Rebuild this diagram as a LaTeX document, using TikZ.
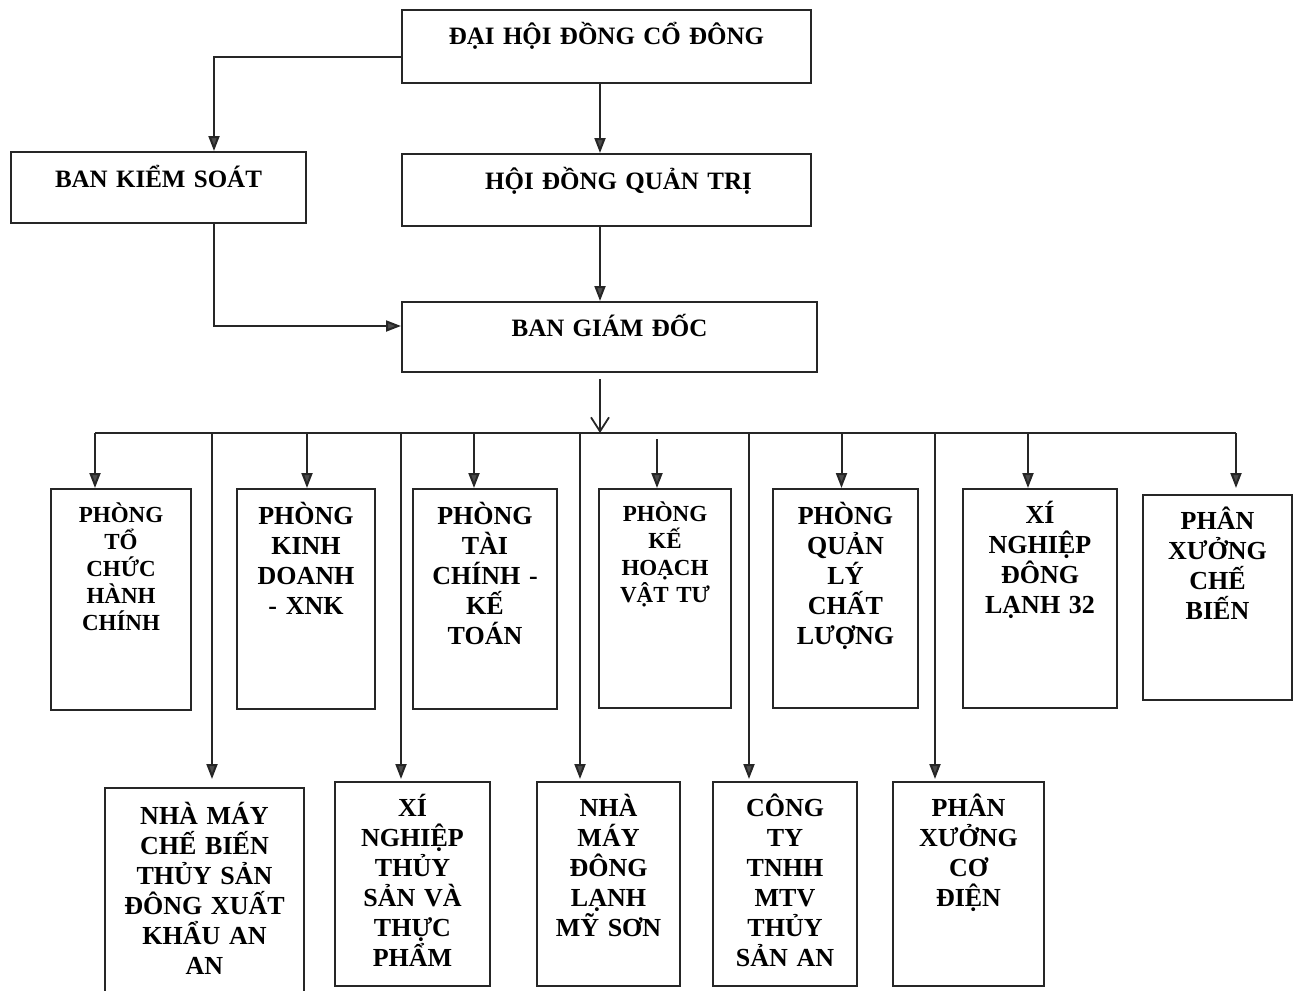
\documentclass[tikz,border=0pt]{standalone}
\usepackage{fontspec}
\setmainfont{Liberation Serif}
\usetikzlibrary{arrows.meta, positioning}

\begin{document}
\begin{tikzpicture}[
    x=0.5pt, y=-0.5pt,
    box/.style={draw=black!85, line width=1pt, rectangle, inner sep=0pt},
    lbl/.style={anchor=base, align=center, inner sep=0pt, text width=200pt,
        font=\bfseries\fontsize{12.5}{15}\selectfont},
    unitlbl/.style={anchor=base, align=center, inner sep=0pt, text width=100pt,
        font=\bfseries\fontsize{13}{15}\selectfont},
    smalllbl/.style={unitlbl, font=\bfseries\fontsize{11.5}{13.5}\selectfont},
    arrow/.style={draw=black!85, line width=1pt, -{Triangle[length=7.5pt,width=5.5pt,fill=black!70]}},
    vee/.style={draw=black!85, line width=1pt, -{Straight Barb[length=7pt,width=9pt,line width=0.9pt]}}
]
\useasboundingbox (0,0) rectangle (1297,991);

% top levels
\node (dhdcd) [box, minimum width=204.5pt, minimum height=36.5pt,
    label={[lbl, yshift=-17.5pt]north:ĐẠI HỘI ĐỒNG CỔ ĐÔNG}] at (606.5,46.5) {};
\node (bks) [box, minimum width=147.5pt, minimum height=35.5pt,
    label={[lbl, yshift=-18pt]north:BAN KIỂM SOÁT}] at (158.5,187.5) {};
\node (hdqt) [box, minimum width=204.5pt, minimum height=36pt,
    label={[lbl, xshift=6pt, yshift=-18pt]north:HỘI ĐỒNG QUẢN TRỊ}] at (606.5,190) {};
\node (bgd) [box, minimum width=207.5pt, minimum height=35pt,
    label={[lbl, yshift=-17.5pt]north:BAN GIÁM ĐỐC}] at (609.5,337) {};

% departments
\node (d1) [box, minimum width=70pt, minimum height=110.5pt,
    label={[smalllbl, yshift=-17pt]north:PHÒNG\\TỔ\\CHỨC\\HÀNH\\CHÍNH}] at (121,599.5) {};
\node (d2) [box, minimum width=69pt, minimum height=110pt,
    label={[unitlbl, yshift=-18pt]north:PHÒNG\\KINH\\DOANH\\- XNK}] at (306,599) {};
\node (d3) [box, minimum width=72pt, minimum height=110pt,
    label={[unitlbl, yshift=-18pt]north:PHÒNG\\TÀI\\CHÍNH -\\KẾ\\TOÁN}] at (485,599) {};
\node (d4) [box, minimum width=66pt, minimum height=109.5pt,
    label={[smalllbl, yshift=-16.5pt]north:PHÒNG\\KẾ\\HOẠCH\\VẬT TƯ}] at (665,598.5) {};
\node (d5) [box, minimum width=72.5pt, minimum height=109.5pt,
    label={[unitlbl, yshift=-18pt]north:PHÒNG\\QUẢN\\LÝ\\CHẤT\\LƯỢNG}] at (845.5,598.5) {};
\node (d6) [box, minimum width=77pt, minimum height=109.5pt,
    label={[unitlbl, yshift=-17.5pt]north:XÍ\\NGHIỆP\\ĐÔNG\\LẠNH 32}] at (1040,598.5) {};
\node (d7) [box, minimum width=74.5pt, minimum height=102.5pt,
    label={[unitlbl, yshift=-17.5pt]north:PHÂN\\XƯỞNG\\CHẾ\\BIẾN}] at (1217.5,597.5) {};

% member units
\node (b1) [box, minimum width=99.5pt, minimum height=106pt,
    label={[unitlbl, yshift=-18.5pt]north:NHÀ MÁY\\CHẾ BIẾN\\THỦY SẢN\\ĐÔNG XUẤT\\KHẨU AN\\AN}] at (204.5,894) {};
\node (b2) [box, minimum width=77.5pt, minimum height=102pt,
    label={[unitlbl, yshift=-17.5pt]north:XÍ\\NGHIỆP\\THỦY\\SẢN VÀ\\THỰC\\PHẨM}] at (412.5,884) {};
\node (b3) [box, minimum width=71.5pt, minimum height=102pt,
    label={[unitlbl, yshift=-17.5pt]north:NHÀ\\MÁY\\ĐÔNG\\LẠNH\\MỸ SƠN}] at (608.5,884) {};
\node (b4) [box, minimum width=72pt, minimum height=102pt,
    label={[unitlbl, yshift=-17.5pt]north:CÔNG\\TY\\TNHH\\MTV\\THỦY\\SẢN AN}] at (785,884) {};
\node (b5) [box, minimum width=75.5pt, minimum height=102pt,
    label={[unitlbl, yshift=-17.5pt]north:PHÂN\\XƯỞNG\\CƠ\\ĐIỆN}] at (968.5,884) {};

% bus
\coordinate (busL) at (95,433);
\coordinate (busR) at (1236,433);
\draw [draw=black!85, line width=1pt] (busL) -- (busR);

\draw [arrow] ([yshift=-5.25pt]dhdcd.west) -| ([xshift=27.75pt]bks.north);
\draw [arrow] ([xshift=-3.25pt]dhdcd.south) -- ([xshift=-3.25pt]hdqt.north);
\draw [arrow] ([xshift=-3.25pt]hdqt.south) -- ([xshift=-4.75pt]bgd.north);
\draw [arrow] ([xshift=27.75pt]bks.south) |- ([yshift=5.5pt]bgd.west);
\draw [vee, shorten <=3pt] ([xshift=-4.75pt]bgd.south) -- ([xshift=-4.75pt]bgd.south |- busL);

\draw [arrow] ([xshift=-13pt]d1.north |- busL) -- ([xshift=-13pt]d1.north);
\draw [arrow] ([xshift=0.5pt]d2.north |- busL) -- ([xshift=0.5pt]d2.north);
\draw [arrow] ([xshift=-5.5pt]d3.north |- busL) -- ([xshift=-5.5pt]d3.north);
\draw [arrow] ([xshift=-4pt,yshift=-3pt]d4.north |- busL) -- ([xshift=-4pt]d4.north);
\draw [arrow] ([xshift=-2pt]d5.north |- busL) -- ([xshift=-2pt]d5.north);
\draw [arrow] ([xshift=-6pt]d6.north |- busL) -- ([xshift=-6pt]d6.north);
\draw [arrow, shorten >=3pt] ([xshift=9.25pt]d7.north |- busL) -- ([xshift=9.25pt]d7.north);

\draw [arrow, shorten >=4pt] ([xshift=3.75pt]b1.north |- busL) -- ([xshift=3.75pt]b1.north);
\draw [arrow, shorten >=1pt] ([xshift=-5.75pt]b2.north |- busL) -- ([xshift=-5.75pt]b2.north);
\draw [arrow, shorten >=1pt] ([xshift=-14.25pt]b3.north |- busL) -- ([xshift=-14.25pt]b3.north);
\draw [arrow, shorten >=1pt] ([xshift=-18pt]b4.north |- busL) -- ([xshift=-18pt]b4.north);
\draw [arrow, shorten >=1pt] ([xshift=-16.75pt]b5.north |- busL) -- ([xshift=-16.75pt]b5.north);
\end{tikzpicture}
\end{document}
